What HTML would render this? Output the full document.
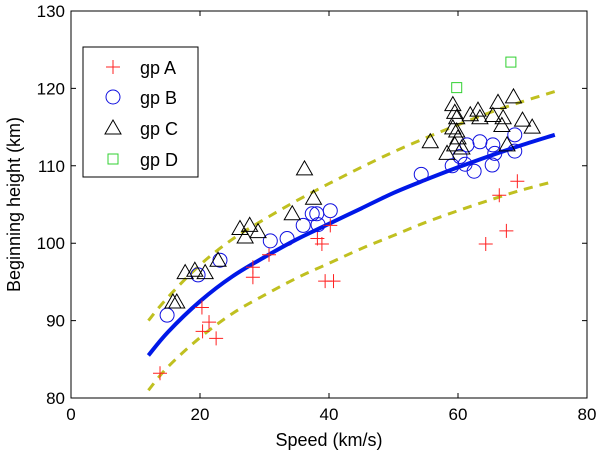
<!DOCTYPE html>
<html><head><meta charset="utf-8"><style>
body{margin:0;background:#fff}
svg{display:block;font-family:"Liberation Sans",Arial,sans-serif}
</style></head><body>
<svg id="chart" width="600" height="456">
<g id="marks"></g>
<g id="axes"></g>
<g id="legend"></g>
</svg>
<script>
const xTicks=[0,20,40,60,80];
const yTicks=[80,90,100,110,120,130];
const aX=[13.8,20.3,21.4,20.4,22.5,28.2,28.2,30.7,38.2,38.9,40.2,39.4,40.7,69.2,66.4,67.5,64.3];
const aY=[83.2,91.7,89.8,88.6,87.7,96.9,95.6,98.5,100.6,99.9,102.3,95.1,95.1,108,106.2,101.6,99.9];
const bX=[14.9,19.7,23.1,30.9,33.5,36,37.4,38.1,38.3,40.2,54.3,59.1,61.1,62.5,61.4,63.4,65.4,65.7,65.3,68.8,68.8,60.3];
const bY=[90.7,95.9,97.8,100.3,100.6,102.3,103.8,103.8,102.4,104.2,108.9,110,110.2,109.3,112.7,113.1,112.7,111.6,110.1,114,111.9,111.2];
const cX=[36.2,37.6,34.3,26.2,27.7,27,29,17.7,19.2,20.8,22.8,15.8,16.4,55.7,59.2,59.5,59.8,59.2,59.8,59.5,58.3,60.6,61.9,63.1,63.4,65.4,66.2,67,66.8,68.6,70,71.5,67.6,60];
const cY=[109.6,105.8,103.8,101.9,102.3,100.8,101.5,96.2,96.5,96.2,97.8,92.4,92.4,113.1,117.9,116.9,116.2,114.9,114.5,112.7,111.6,112.3,116.6,117.2,116.2,116.5,118.2,116.2,115.2,118.9,115.9,115,112.7,113.6];
const dX=[59.8,68.2];
const dY=[120.1,123.4];
const fitX=[12,15,20,25,30,35,40,45,50,55,60,65,70,75];
const fitY=[85.5,88.5,92.5,95.7,98.2,100.5,102.5,104.5,106.5,108.2,109.8,111.3,112.7,114];
const upY=[90,93,97.2,100.5,103.1,105.5,107.7,109.8,111.8,113.6,115.3,116.9,118.3,119.6];
const loY=[81,84,87.8,90.9,93.3,95.5,97.4,99.3,101,102.7,104.2,105.6,106.9,108];

const L=71,R=587,T=11,B=398;
const sx=v=>L+(v-0)/80*(R-L);
const sy=v=>B-(v-80)/50*(B-T);
const NS="http://www.w3.org/2000/svg";
function mk(tag,attrs,parent){const e=document.createElementNS(NS,tag);for(const k in attrs)e.setAttribute(k,attrs[k]);parent.appendChild(e);return e;}
const marks=document.getElementById('marks'),axes=document.getElementById('axes'),leg=document.getElementById('legend');

function plus(x,y,p,s){const g=mk('g',{},p);mk('path',{d:`M${x-s} ${y}H${x+s}M${x} ${y-s}V${y+s}`,stroke:'#ff2020',fill:'none','stroke-width':1},g);return g;}
function circ(x,y,p,r){return mk('circle',{cx:x,cy:y,r:r,stroke:'#1010e0',fill:'none','stroke-width':1},p);}
function tri(x,y,p,s){return mk('path',{d:`M${x} ${y-s}L${x+s} ${y+s*0.75}L${x-s} ${y+s*0.75}Z`,stroke:'#000',fill:'none','stroke-width':1},p);}
function sq(x,y,p,s){return mk('rect',{x:x-s,y:y-s,width:2*s,height:2*s,stroke:'#30d030',fill:'none','stroke-width':1},p);}
function line(ys,attrs){
  const P=fitX.map((v,i)=>[sx(v),sy(ys[i])]);
  let d='M'+P[0][0].toFixed(1)+' '+P[0][1].toFixed(1);
  for(let i=0;i<P.length-1;i++){
    const p0=P[Math.max(i-1,0)],p1=P[i],p2=P[i+1],p3=P[Math.min(i+2,P.length-1)];
    const c1=[p1[0]+(p2[0]-p0[0])/6,p1[1]+(p2[1]-p0[1])/6];
    const c2=[p2[0]-(p3[0]-p1[0])/6,p2[1]-(p3[1]-p1[1])/6];
    d+=`C${c1[0].toFixed(1)} ${c1[1].toFixed(1)} ${c2[0].toFixed(1)} ${c2[1].toFixed(1)} ${p2[0].toFixed(1)} ${p2[1].toFixed(1)}`;
  }
  return mk('path',Object.assign({d:d,fill:'none'},attrs),marks);}

const up=line(upY,{stroke:'#c0c020','stroke-width':3,'stroke-dasharray':'9 7'});


const lo=line(loY,{stroke:'#c0c020','stroke-width':3,'stroke-dasharray':'9 7'});


const fit=line(fitY,{stroke:'#0018e8','stroke-width':4});



aX.forEach((v,i)=>{const e=plus(sx(v),sy(aY[i]),marks,7);

});
bX.forEach((v,i)=>{const e=circ(sx(v),sy(bY[i]),marks,7);

});
cX.forEach((v,i)=>{const e=tri(sx(v),sy(cY[i]),marks,8);

});
dX.forEach((v,i)=>{const e=sq(sx(v),sy(dY[i]),marks,5);

});

const fr=mk('rect',{x:L,y:T,width:R-L,height:B-T,fill:'none',stroke:'#000','stroke-width':1},axes);


xTicks.forEach(v=>{const x=sx(v);mk('path',{d:`M${x} ${B}v-5M${x} ${T}v5`,stroke:'#000'},axes);
const t=mk('text',{x:x,y:B+22,'text-anchor':'middle','font-size':17},axes);t.textContent=v;

});
yTicks.forEach(v=>{const y=sy(v);mk('path',{d:`M${L} ${y}h5M${R} ${y}h-5`,stroke:'#000'},axes);
const t=mk('text',{x:L-6,y:y+6,'text-anchor':'end','font-size':17},axes);t.textContent=v;

});
const xl=mk('text',{x:(L+R)/2,y:446,'text-anchor':'middle','font-size':18},axes);xl.textContent='Speed (km/s)';


const yl=mk('text',{x:0,y:0,transform:`translate(20,${(T+B)/2}) rotate(-90)`,'text-anchor':'middle','font-size':18},axes);yl.textContent='Beginning height (km)';



mk('rect',{x:83,y:47,width:115,height:130,fill:'#fff',stroke:'#000'},leg);
const names=['gp A','gp B','gp C','gp D'],ly=[67,97,128,159];
const fns=[(x,y)=>plus(x,y,leg,7),(x,y)=>circ(x,y,leg,7),(x,y)=>tri(x,y,leg,8),(x,y)=>sq(x,y,leg,5)];
names.forEach((n,i)=>{fns[i](113,ly[i]);
const t=mk('text',{x:140,y:ly[i]+7,'font-size':18},leg);t.textContent=n;

});
</script>
</body></html>
